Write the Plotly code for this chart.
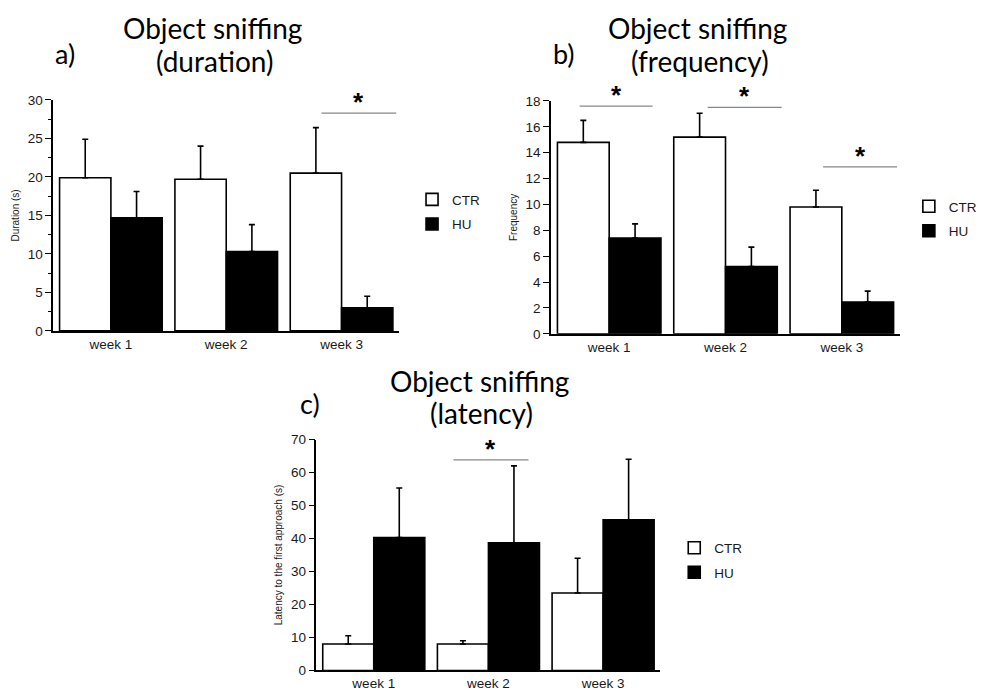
import plotly.graph_objects as go

weeks = ["week 1", "week 2", "week 3"]

dur_ctr = [19.9, 19.7, 20.5]
dur_ctr_err = [5.0, 4.3, 5.9]
dur_hu = [14.7, 10.3, 3.0]
dur_hu_err = [3.4, 3.5, 1.5]

freq_ctr = [14.8, 15.2, 9.8]
freq_ctr_err = [1.7, 1.85, 1.3]
freq_hu = [7.4, 5.2, 2.45]
freq_hu_err = [1.1, 1.5, 0.85]

lat_ctr = [8.0, 8.0, 23.5]
lat_ctr_err = [2.5, 1.0, 10.5]
lat_hu = [40.3, 38.7, 45.7]
lat_hu_err = [15.0, 23.3, 18.3]

# significance bars: (x start, x end in category units, height)
sig_dur = [(1.825, 2.474, 28.3)]
sig_freq = [(-0.254, 0.373, 17.6), (0.847, 1.483, 17.5), (1.839, 2.475, 12.9)]
sig_lat = [(0.695, 1.349, 63.8)]

FONT = "Liberation Sans, Arial, sans-serif"
TFONT = "Lato, Carlito, Calibri, sans-serif"
TXT = "#1a1a1a"

panels = [
    dict(ctr=dur_ctr, ce=dur_ctr_err, hu=dur_hu, he=dur_hu_err, sig=sig_dur,
         ax="", leg="legend", ymax=30, dtick=5, minor=2.5, ytitle="Duration (s)",
         xdom=[54/982, 405/982], ydom=[1-331/699, 1-95/699]),
    dict(ctr=freq_ctr, ce=freq_ctr_err, hu=freq_hu, he=freq_hu_err, sig=sig_freq,
         ax="2", leg="legend2", ymax=18, dtick=2, minor=None, ytitle="Frequency",
         xdom=[559/982, 913/982], ydom=[1-334/699, 1-96/699]),
    dict(ctr=lat_ctr, ce=lat_ctr_err, hu=lat_hu, he=lat_hu_err, sig=sig_lat,
         ax="3", leg="legend3", ymax=70, dtick=10, minor=None,
         ytitle="Latency to the first approach (s)",
         xdom=[321/982, 670/982], ydom=[1-678/699, 1-442/699]),
]

fig = go.Figure()
layout = dict(
    width=982, height=699, margin=dict(l=0, r=0, t=0, b=0),
    paper_bgcolor="white", plot_bgcolor="white",
    barmode="group", bargap=0.11, bargroupgap=0,
    font=dict(family=FONT, size=13, color=TXT),
)
shapes = []
annotations = []

for p in panels:
    xa = "x" + p["ax"]
    ya = "y" + p["ax"]
    err_style = dict(type="data", symmetric=False, color="black", thickness=1.6, width=3)
    fig.add_trace(go.Bar(
        x=weeks, y=p["ctr"], name="CTR", xaxis=xa, yaxis=ya, legend=p["leg"],
        legendgroup="ctr" + p["ax"],
        marker=dict(color="white", line=dict(color="black", width=1.6)),
        error_y=dict(array=p["ce"], arrayminus=[0]*3, **err_style),
    ))
    fig.add_trace(go.Bar(
        x=weeks, y=p["hu"], name="HU", xaxis=xa, yaxis=ya, legend=p["leg"],
        legendgroup="hu" + p["ax"],
        marker=dict(color="black", line=dict(color="black", width=1.6)),
        error_y=dict(array=p["he"], arrayminus=[0]*3, **err_style),
    ))
    xkey = "xaxis" + p["ax"]
    ykey = "yaxis" + p["ax"]
    layout[xkey] = dict(
        domain=p["xdom"], anchor=ya, range=[-0.5, 2.5], showline=True,
        linecolor="black", linewidth=1.6, ticks="", showgrid=False,
        tickfont=dict(size=13.5, family=FONT, color=TXT), fixedrange=True,
    )
    yax = dict(
        domain=p["ydom"], anchor=xa, range=[0, p["ymax"]], showline=True,
        linecolor="black", linewidth=1.6, ticks="outside", ticklen=6,
        tickwidth=1.4, tickcolor="black", dtick=p["dtick"], showgrid=False,
        zeroline=False, tickfont=dict(size=13.5, family=FONT, color=TXT),
        title=dict(text=p["ytitle"], font=dict(size=10, family=FONT, color=TXT),
                   standoff=6),
    )
    if p["minor"]:
        yax["minor"] = dict(ticks="outside", ticklen=3, dtick=p["minor"],
                            tickcolor="black", tickwidth=1.2, showgrid=False)
    layout[ykey] = yax
    for (x0, x1, yv) in p["sig"]:
        shapes.append(dict(type="line", xref=xa, yref=ya, x0=x0, x1=x1, y0=yv, y1=yv,
                           line=dict(color="#888", width=1.2)))
        annotations.append(dict(text="<b>*</b>", xref=xa, yref=ya, x=(x0 + x1) / 2, y=yv,
                                yshift=11, showarrow=False, xanchor="center",
                                yanchor="middle", font=dict(size=26, family=FONT, color="black")))

legend_common = dict(font=dict(size=13.5, family=FONT, color=TXT),
                     bgcolor="rgba(0,0,0,0)", xanchor="left", yanchor="top",
                     tracegroupgap=4, itemwidth=30)
layout["legend"] = dict(x=418/982, y=1-181/699, **legend_common)
layout["legend2"] = dict(x=922/982, y=1-188/699, **legend_common)
layout["legend3"] = dict(x=684/982, y=1-537/699, **legend_common)

titles = [
    ("Object sniffing", 216, 21), ("(duration)", 218, 55),
    ("Object sniffing", 708, 21), ("(frequency)", 710, 55),
    ("Object sniffing", 486, 382), ("(latency)", 488, 415),
]
for t, x, y in titles:
    annotations.append(dict(text=t, xref="paper", yref="paper", x=x/982, y=1-y/699,
                            showarrow=False, xanchor="center", yanchor="middle",
                            font=dict(size=28, family=TFONT, color="black")))
labels = [("a)", 66, 48), ("b)", 572, 48), ("c)", 314, 405)]
for t, x, y in labels:
    annotations.append(dict(text=t, xref="paper", yref="paper", x=x/982, y=1-y/699,
                            showarrow=False, xanchor="center", yanchor="middle",
                            font=dict(size=27, family=TFONT, color="black")))

layout["shapes"] = shapes
layout["annotations"] = annotations
fig.update_layout(**layout)
fig.write_html("out.html")
